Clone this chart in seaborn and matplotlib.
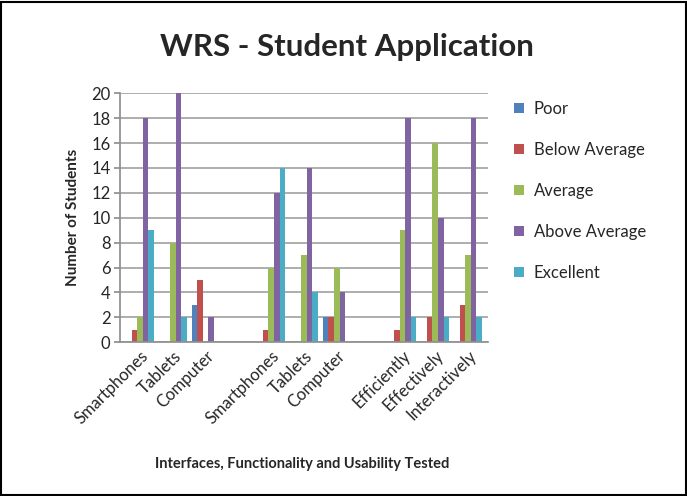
import matplotlib.pyplot as plt
import matplotlib.patches as mpatches
import pandas as pd
import seaborn as sns

# category slots (blank slots separate the three groups)
slots = ["Smartphones", "Tablets", "Computer", "",
         "Smartphones", "Tablets", "Computer", "",
         "Efficiently", "Effectively", "Interactively"]
series = ["Poor", "Below Average", "Average", "Above Average", "Excellent"]
colors = ["#4F81BD", "#C0504D", "#9BBB59", "#8064A2", "#4BACC6"]

poor = [0, 0, 3, None, 0, 0, 2, None, 0, 0, 0]
below_avg = [1, 0, 5, None, 1, 0, 2, None, 1, 2, 3]
average = [2, 8, 0, None, 6, 7, 6, None, 9, 16, 7]
above_avg = [18, 20, 2, None, 12, 14, 4, None, 18, 10, 18]
excellent = [9, 2, 0, None, 14, 4, 0, None, 2, 2, 2]

rows = []
for name, vals in zip(series, [poor, below_avg, average, above_avg, excellent]):
    for i, v in enumerate(vals):
        if v is not None:
            rows.append({"slot": str(i), "rating": name, "students": v})
df = pd.DataFrame(rows)

sns.set_theme(style="white")
plt.rcParams["font.family"] = ["Lato", "DejaVu Sans"]

fig = plt.figure(figsize=(6.87, 4.96), dpi=100)
ax = fig.add_axes([0.175, 0.31, 0.535, 0.502])

sns.barplot(data=df, x="slot", y="students", hue="rating",
            order=[str(i) for i in range(len(slots))], hue_order=series,
            palette=colors, saturation=1, width=0.85, ax=ax, legend=True,
            edgecolor="none")

ax.set_ylim(0, 20)
ax.set_yticks(range(0, 21, 2))
ax.yaxis.grid(True, color="#A0A0A0", linewidth=1.2)
ax.set_axisbelow(True)
for side in ["top", "right"]:
    ax.spines[side].set_visible(False)
ax.spines["left"].set_color("#909090")
ax.spines["bottom"].set_color("#909090")
ax.tick_params(axis="y", labelsize=12, length=4, color="#909090", left=True, pad=3)
ax.set_xticks(range(len(slots)))
ax.set_xticklabels(slots, rotation=45, ha="right", rotation_mode="anchor", fontsize=12)
ax.tick_params(axis="x", length=0, pad=4)
ax.set_xlim(-0.6, len(slots) - 0.4)

ax.set_ylabel("Number of Students", fontsize=11, fontweight="bold", labelpad=8)
ax.set_xlabel("")
fig.text(0.44, 0.065, "Interfaces, Functionality and Usability Tested",
         ha="center", va="center", fontsize=10.5, fontweight="bold")
fig.text(0.505, 0.905, "WRS - Student Application", ha="center", va="center",
         fontsize=22.5, fontweight="bold")

ax.legend(loc="upper left", bbox_to_anchor=(1.03, 1.03), frameon=False,
          fontsize=12, handlelength=0.6, handleheight=0.6, labelspacing=1.5,
          handletextpad=0.6)

fig.patches.append(mpatches.Rectangle((0.002, 0.002), 0.996, 0.994,
                                      transform=fig.transFigure, fill=False,
                                      edgecolor="black", linewidth=1.5))

fig.savefig("out.png", dpi=100)
